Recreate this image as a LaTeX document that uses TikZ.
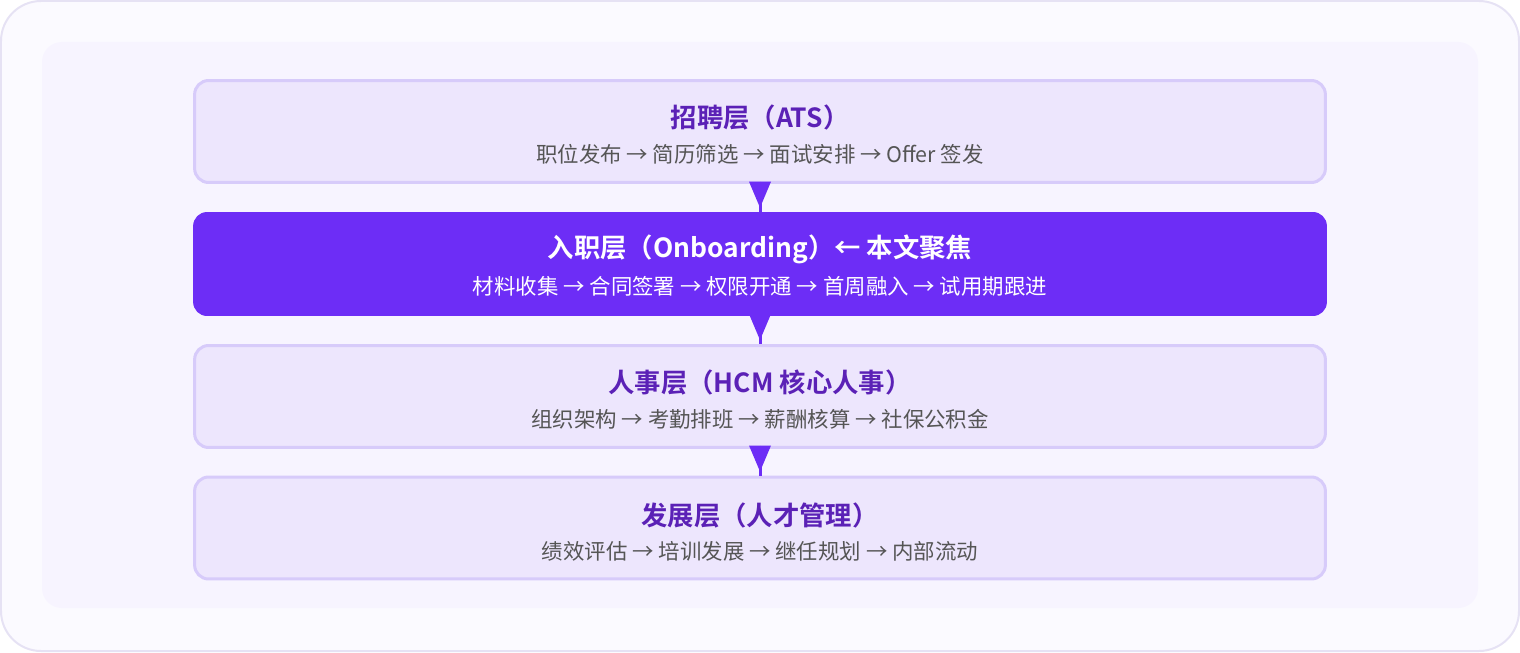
\documentclass[tikz,border=0pt]{standalone}
\usepackage{fontspec}
\setmainfont{Noto Sans CJK SC}[BoldFont={Noto Sans CJK SC Bold}]
\usepackage{tikz}
\usetikzlibrary{arrows.meta}
\definecolor{OuterFill}{HTML}{FBFAFF}
\definecolor{OuterLine}{HTML}{E6E2F4}
\definecolor{InnerFill}{HTML}{F7F4FF}
\definecolor{LayerFill}{HTML}{EDE6FD}
\definecolor{LayerLine}{HTML}{D7CBFA}
\definecolor{FocusFill}{HTML}{6D2DF6}
\definecolor{TitleInk}{HTML}{5B21B6}
\definecolor{SubInk}{HTML}{555555}
\tikzstyle{none}=[inner sep=0pt]
\tikzstyle{layer}=[draw=LayerLine,fill=LayerFill,line width=0.06cm,rounded corners=0.28cm,minimum width=22.62cm,minimum height=2.04cm,inner sep=0pt]
\tikzstyle{focus}=[fill=FocusFill,rounded corners=0.28cm,minimum width=22.68cm,minimum height=2.08cm,inner sep=0pt]
\tikzstyle{title}=[inner sep=0pt,text=TitleInk,font=\fontsize{15}{17}\selectfont\bfseries]
\tikzstyle{sub}=[inner sep=0pt,text=SubInk,font=\fontsize{12.2}{14}\selectfont]
\tikzstyle{stem}=[-,draw=FocusFill,line width=0.06cm]
\tikzstyle{flow}=[-{Triangle[width=0.44cm,length=0.52cm,line width=0pt]},draw=FocusFill,fill=FocusFill,line width=0.06cm,shorten >=0.08cm]

\begin{document}
\begin{tikzpicture}[x=0.02cm,y=-0.02cm]
  \useasboundingbox (0,0) rectangle (1520,652);
  \draw [draw=OuterLine,fill=OuterFill,line width=0.04cm,rounded corners=0.8cm] (1,1) rectangle (1519,651);
  \fill [InnerFill,rounded corners=0.4cm] (42,42) rectangle (1478,608);
  \node [style=layer] (0) at (760,131.5) {};
  \node [style=focus] (1) at (760,264) {};
  \node [style=layer] (2) at (760,396.5) {};
  \node [style=layer] (3) at (760,528) {};
  \node [style=title] (4) at (760,117) {招聘层（ATS）};
  \node [style=sub] (5) at (760,154) {职位发布 → 简历筛选 → 面试安排 → Offer 签发};
  \node [style=title,text=white] (6) at (760,249) {入职层（Onboarding）← 本文聚焦};
  \node [style=sub,text=white] (7) at (760,286) {材料收集 → 合同签署 → 权限开通 → 首周融入 → 试用期跟进};
  \node [style=title] (8) at (760,382) {人事层（HCM 核心人事）};
  \node [style=sub] (9) at (760,419) {组织架构 → 考勤排班 → 薪酬核算 → 社保公积金};
  \node [style=title] (10) at (760,515) {发展层（人才管理）};
  \node [style=sub] (11) at (760,551) {绩效评估 → 培训发展 → 继任规划 → 内部流动};
  \draw [style=stem] (0.south) to (1.north);
  \draw [style=flow] (0.south) to (1.north);
  \draw [style=stem] (1.south) to (2.north);
  \draw [style=flow] (1.south) to (2.north);
  \draw [style=stem] (2.south) to (3.north);
  \draw [style=flow] (2.south) to (3.north);
\end{tikzpicture}
\end{document}
